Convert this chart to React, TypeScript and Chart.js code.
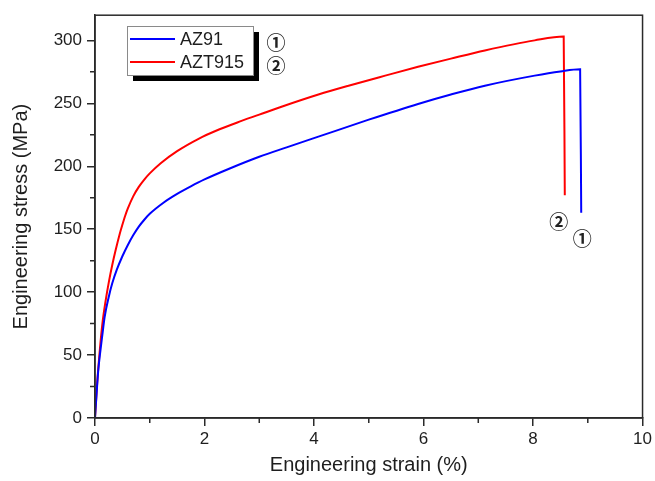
import React, { useEffect, useRef } from "react";
import { Chart, registerables } from "chart.js";

Chart.register(...registerables);

// AZ91 (curve ①)
const strainAZ91 = [0, 0.03, 0.06, 0.1, 0.14, 0.175, 0.25, 0.315, 0.4, 0.5, 0.6, 0.7, 0.8, 0.9, 1.0, 1.25, 1.5, 1.75, 2.0, 2.45, 3.0, 3.5, 4.08, 5.0, 5.9, 6.5, 7.12, 8.03, 8.5, 8.86, 8.88];
const stressAZ91 = [0, 20, 38, 54, 68, 80, 96, 107, 118, 128.5, 137.5, 145.3, 152, 157.5, 162.2, 171, 178, 184, 189.5, 198, 207.5, 215, 223.5, 237, 249.5, 257, 264, 272, 275.3, 277, 163];

// AZT915 (curve ②)
const strainAZT915 = [0, 0.04, 0.09, 0.135, 0.19, 0.255, 0.315, 0.375, 0.45, 0.5, 0.55, 0.6, 0.7, 0.8, 0.9, 1.0, 1.2, 1.5, 1.9, 2.2, 2.6, 3.0, 3.42, 4.08, 4.63, 5.3, 5.9, 6.5, 7.12, 8.03, 8.56, 8.58];
const stressAZT915 = [0, 28, 55, 75, 92, 108.5, 121.5, 133, 146, 153.5, 160.5, 166.5, 176.3, 183.6, 189.4, 194.3, 202.4, 212, 222, 228, 234.8, 241, 247.5, 257, 264, 272, 279, 285.5, 292, 300, 303, 177];

const seriesNames = ["AZ91", "AZT915"];
const seriesMarks = ["①", "②"];
const seriesColors = ["#0000ff", "#ff0000"];

// circled-number annotations at the fracture ends (strain, stress)
const markStrain = [8.9, 8.47];
const markStress = [142.5, 156];

const xTitle = "Engineering strain (%)";
const yTitle = "Engineering stress (MPa)";

const AXIS = "#2a2a2a";
const TXT = "#1e1e1e";
const FONT = "'Liberation Sans', Arial, sans-serif";
const CIRC_FONT = "'Noto Sans CJK SC', 'DejaVu Sans', sans-serif";

const decorPlugin = {
  id: "decor",
  afterDraw(chart: any) {
    const ctx = chart.ctx as CanvasRenderingContext2D;
    const { left, right, top, bottom } = chart.chartArea;
    const xs = chart.scales.x;
    const ys = chart.scales.y;
    ctx.save();
    // frame
    ctx.strokeStyle = AXIS;
    ctx.lineWidth = 1.5;
    ctx.strokeRect(left, top, right - left, bottom - top);
    // minor ticks
    ctx.beginPath();
    for (let v = 1; v < 10; v += 2) {
      const px = xs.getPixelForValue(v);
      ctx.moveTo(px, bottom);
      ctx.lineTo(px, bottom + 5);
    }
    for (let v = 25; v < 320; v += 50) {
      const py = ys.getPixelForValue(v);
      ctx.moveTo(left, py);
      ctx.lineTo(left - 5, py);
    }
    ctx.stroke();

    // legend
    const bx = 127, by = 26, bw = 126, bh = 49;
    ctx.fillStyle = "#000";
    ctx.fillRect(bx + 6, by + 6, bw, bh);
    ctx.fillStyle = "#fff";
    ctx.fillRect(bx, by, bw, bh);
    ctx.strokeStyle = "#8a8a8a";
    ctx.lineWidth = 1;
    ctx.strokeRect(bx + 0.5, by + 0.5, bw, bh);
    const rows = [39, 62];
    ctx.font = `18px ${FONT}`;
    ctx.textBaseline = "middle";
    ctx.textAlign = "left";
    for (let i = 0; i < 2; i++) {
      ctx.strokeStyle = seriesColors[i];
      ctx.lineWidth = 2;
      ctx.beginPath();
      ctx.moveTo(130, rows[i]);
      ctx.lineTo(175, rows[i]);
      ctx.stroke();
      ctx.fillStyle = TXT;
      ctx.fillText(seriesNames[i], 180, rows[i] + 1);
    }
    // circled numbers
    ctx.font = `bold 19px ${CIRC_FONT}`;
    ctx.textAlign = "center";
    ctx.fillStyle = "#222";
    for (let i = 0; i < 2; i++) {
      ctx.fillText(seriesMarks[i], 276, rows[i] + 4);
    }
    for (let i = 0; i < 2; i++) {
      ctx.fillText(seriesMarks[i], xs.getPixelForValue(markStrain[i]), ys.getPixelForValue(markStress[i]));
    }
    ctx.restore();
  },
};

export default function App() {
  const ref = useRef<HTMLCanvasElement | null>(null);
  useEffect(() => {
    document.body.style.margin = "0";
    const canvas = ref.current!;
    const mk = (xs: number[], ys: number[]) => xs.map((x, i) => ({ x, y: ys[i] }));
    const chart = new Chart(canvas, {
      type: "line",
      data: {
        datasets: [
          {
            label: seriesNames[0],
            data: mk(strainAZ91, stressAZ91),
            borderColor: seriesColors[0],
            borderWidth: 2,
            pointRadius: 0,
            cubicInterpolationMode: "monotone",
          },
          {
            label: seriesNames[1],
            data: mk(strainAZT915, stressAZT915),
            borderColor: seriesColors[1],
            borderWidth: 2,
            pointRadius: 0,
            cubicInterpolationMode: "monotone",
          },
        ],
      },
      options: {
        animation: false,
        responsive: false,
        devicePixelRatio: 1,
        layout: { padding: { top: 15, right: 11, left: 0, bottom: 0 } },
        plugins: { legend: { display: false }, tooltip: { enabled: false } },
        scales: {
          x: {
            type: "linear",
            min: 0,
            max: 10,
            ticks: { stepSize: 2, color: TXT, font: { family: FONT, size: 17 }, padding: 3, maxRotation: 0, includeBounds: false },
            grid: { display: true, drawOnChartArea: false, drawTicks: true, tickLength: 8, color: AXIS, lineWidth: 1.5 },
            border: { display: true, color: AXIS, width: 1.5 },
            title: { display: true, text: xTitle, color: TXT, font: { family: FONT, size: 20 }, padding: { top: 0, bottom: 4 } },
            afterFit: (s: any) => { s.height = 63; },
          },
          y: {
            type: "linear",
            min: 0,
            max: 320,
            ticks: { stepSize: 50, color: TXT, font: { family: FONT, size: 17 }, padding: 5, includeBounds: false },
            grid: { display: true, drawOnChartArea: false, drawTicks: true, tickLength: 8, color: AXIS, lineWidth: 1.5 },
            border: { display: true, color: AXIS, width: 1.5 },
            title: { display: true, text: yTitle, color: TXT, font: { family: FONT, size: 20 }, padding: { top: 9, bottom: 0 } },
            afterFit: (s: any) => { s.width = 95; },
          },
        },
      },
      plugins: [decorPlugin],
    } as any);
    return () => chart.destroy();
  }, []);
  return (
    <div style={{ width: 655, height: 481 }}>
      <canvas ref={ref} width={655} height={481} />
    </div>
  );
}
